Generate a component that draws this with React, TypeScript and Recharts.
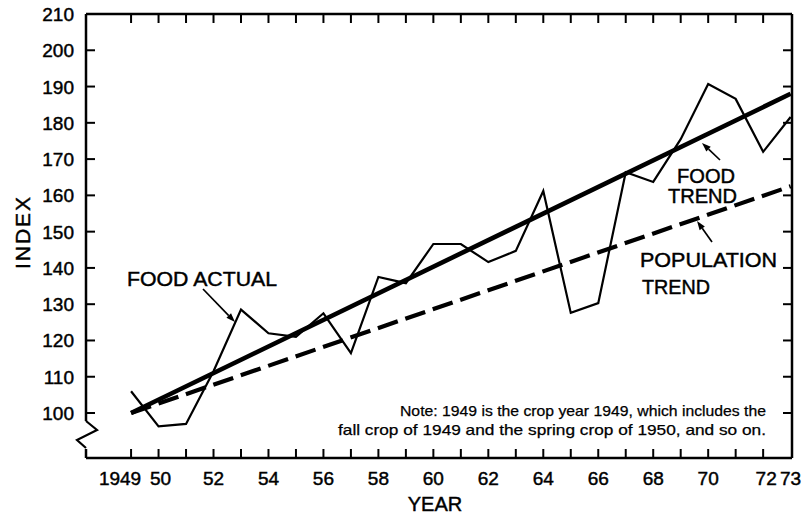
import { LineChart, Line, XAxis, YAxis } from 'recharts';

// crop years, 1949 = crop year 1949 (fall 1949 + spring 1950)
const years = [1949, 1950, 1951, 1952, 1953, 1954, 1955, 1956, 1957, 1958, 1959, 1960, 1961,
  1962, 1963, 1964, 1965, 1966, 1967, 1968, 1969, 1970, 1971, 1972, 1973];
const foodActual = [106, 96.3, 97, 111.5, 128.5, 122, 121, 127.5, 116.5, 137.5, 135.8, 146.6, 146.6,
  141.6, 144.7, 161.2, 127.6, 130.3, 166.4, 163.7, 175.5, 190.7, 186.6, 172, 181.6];

// trend lines are only known at their ends
const trendYears = [1949, 1973];
const foodTrend = [100, 188];
const populationTrend = [100, 162.5];

const xTicks = [1949, 1950, 1951, 1952, 1953, 1954, 1955, 1956, 1957, 1958, 1959, 1960, 1961,
  1962, 1963, 1964, 1965, 1966, 1967, 1968, 1969, 1970, 1971, 1972, 1973];
const xLabelYears = [1949, 1950, 1952, 1954, 1956, 1958, 1960, 1962, 1964, 1966, 1968, 1970, 1972, 1973];
const xLabelText = ['1949', '50', '52', '54', '56', '58', '60', '62', '64', '66', '68', '70', '72', '73'];
const yTicks = [100, 110, 120, 130, 140, 150, 160, 170, 180, 190, 200, 210];

const rows = years.map((year, i) => {
  const t = trendYears.indexOf(year);
  return {
    year,
    actual: foodActual[i],
    foodTrend: t >= 0 ? foodTrend[t] : null,
    popTrend: t >= 0 ? populationTrend[t] : null
  };
});

const FONT = '"Liberation Sans", Arial, Helvetica, sans-serif';
const INK = '#000';
// printed text in the scan is a little heavier than a plain regular face
const heavy = { stroke: INK, strokeWidth: 0.45 };

function BottomTick({ x, y, payload }: any) {
  const v = payload.value;
  const i = xLabelYears.indexOf(v);
  const dx = v === 1949 ? -11 : v === 1950 ? 2 : v === 1972 ? 3 : 0;
  return <g>
      {v !== 1973 && <line x1={x} y1={y} x2={x} y2={y - 9} stroke={INK} strokeWidth={2} />}
      {i >= 0 && <text x={x + dx} y={y + 27} textAnchor="middle" fontSize={19} fontFamily={FONT} fill={INK} {...heavy}>
          {xLabelText[i]}
        </text>}
    </g>;
}

function TopTick({ x, y, payload }: any) {
  if (payload.value === 1973) return <g />;
  return <line x1={x} y1={y} x2={x} y2={y + 9} stroke={INK} strokeWidth={2} />;
}

function LeftTick({ x, y, payload }: any) {
  const v = payload.value;
  return <g>
      {v !== 210 && <line x1={x} y1={y} x2={x + 9} y2={y} stroke={INK} strokeWidth={2} />}
      <text x={x - 12} y={y + 7} textAnchor="end" fontSize={19} fontFamily={FONT} fill={INK} {...heavy}>{v}</text>
      {v === 100 && <g>
          <rect x={x - 3} y={y + 8} width={6} height={28} fill="#fff" />
          <polyline points={`${x},${y + 8} ${x + 11},${y + 17} ${x - 9},${y + 27} ${x},${y + 35}`} fill="none" stroke={INK} strokeWidth={2.2} />
        </g>}
    </g>;
}

function RightTick({ x, y, payload }: any) {
  if (payload.value === 210) return <g />;
  return <line x1={x} y1={y} x2={x - 9} y2={y} stroke={INK} strokeWidth={2} />;
}

function Arrow({ x1, y1, x2, y2 }: { x1: number; y1: number; x2: number; y2: number }) {
  const a = Math.atan2(y2 - y1, x2 - x1);
  const len = 9, w = 3.2;
  const bx = x2 - len * Math.cos(a), by = y2 - len * Math.sin(a);
  const px = -Math.sin(a) * w, py = Math.cos(a) * w;
  return <g>
      <line x1={x1} y1={y1} x2={bx} y2={by} stroke={INK} strokeWidth={1.7} />
      <polygon points={`${x2},${y2} ${bx + px},${by + py} ${bx - px},${by - py}`} fill={INK} />
    </g>;
}

export default function App() {
  const axisLine = { stroke: INK, strokeWidth: 2.5 };
  return <div style={{ position: 'absolute', left: 0, top: 0, width: 805, height: 518, background: '#fff' }}>
      <LineChart width={805} height={518} data={rows} margin={{ top: 0, right: 0, bottom: 0, left: 0 }}>
        <XAxis xAxisId="b" dataKey="year" type="number" domain={[1947.36, 1973.05]} allowDataOverflow ticks={xTicks} interval={0} height={60} tickSize={0} tickMargin={0} tickLine={false} axisLine={axisLine} tick={(p: any) => <BottomTick {...p} />} />
        <XAxis xAxisId="t" orientation="top" dataKey="year" type="number" domain={[1947.36, 1973.05]} allowDataOverflow ticks={xTicks} interval={0} height={14} tickSize={0} tickMargin={0} tickLine={false} axisLine={axisLine} tick={(p: any) => <TopTick {...p} />} />
        <YAxis yAxisId="l" type="number" domain={[87.6, 210]} allowDataOverflow ticks={yTicks} interval={0} width={86} tickSize={0} tickMargin={0} tickLine={false} axisLine={axisLine} tick={(p: any) => <LeftTick {...p} />} />
        <YAxis yAxisId="r" orientation="right" type="number" domain={[87.6, 210]} allowDataOverflow ticks={yTicks} interval={0} width={13} tickSize={0} tickMargin={0} tickLine={false} axisLine={axisLine} tick={(p: any) => <RightTick {...p} />} />
        <Line xAxisId="b" yAxisId="l" type="linear" dataKey="popTrend" connectNulls stroke={INK} strokeWidth={4.2} strokeDasharray="21 8" dot={false} isAnimationActive={false} />
        <Line xAxisId="b" yAxisId="l" type="linear" dataKey="foodTrend" connectNulls stroke={INK} strokeWidth={4.6} dot={false} isAnimationActive={false} />
        <Line xAxisId="b" yAxisId="l" type="linear" dataKey="actual" stroke={INK} strokeWidth={2.2} strokeLinejoin="miter" dot={false} isAnimationActive={false} />
      </LineChart>
      <svg width={805} height={518} style={{ position: 'absolute', left: 0, top: 0, pointerEvents: 'none' }} fontFamily={FONT} fill={INK}>
        <g {...heavy}>
          <text x={22} y={232} transform="rotate(-90 22 232)" textAnchor="middle" dominantBaseline="central" fontSize={21} letterSpacing={2}>INDEX</text>
          <text x={435} y={511} textAnchor="middle" fontSize={20}>YEAR</text>
          <text x={127} y={286} fontSize={20} textLength={150} lengthAdjust="spacingAndGlyphs">FOOD ACTUAL</text>
          <text x={677} y={183} fontSize={20} textLength={58} lengthAdjust="spacingAndGlyphs">FOOD</text>
          <text x={668} y={203} fontSize={20} textLength={69} lengthAdjust="spacingAndGlyphs">TREND</text>
          <text x={640} y={267} fontSize={20} textLength={137} lengthAdjust="spacingAndGlyphs">POPULATION</text>
          <text x={642} y={294} fontSize={20} textLength={68} lengthAdjust="spacingAndGlyphs">TREND</text>
        </g>
        <Arrow x1={203} y1={289} x2={235} y2={322} />
        <Arrow x1={720} y1={160} x2={702} y2={143} />
        <Arrow x1={712} y1={242} x2={697} y2={221} />
        <g stroke={INK} strokeWidth={0.25}>
          <text x={766} y={416} textAnchor="end" fontSize={14.5} textLength={366} lengthAdjust="spacingAndGlyphs">Note: 1949 is the crop year 1949, which includes the</text>
          <text x={766} y={435} textAnchor="end" fontSize={14.5} textLength={428} lengthAdjust="spacingAndGlyphs">fall crop of 1949 and the spring crop of 1950, and so on.</text>
        </g>
      </svg>
    </div>;
}
